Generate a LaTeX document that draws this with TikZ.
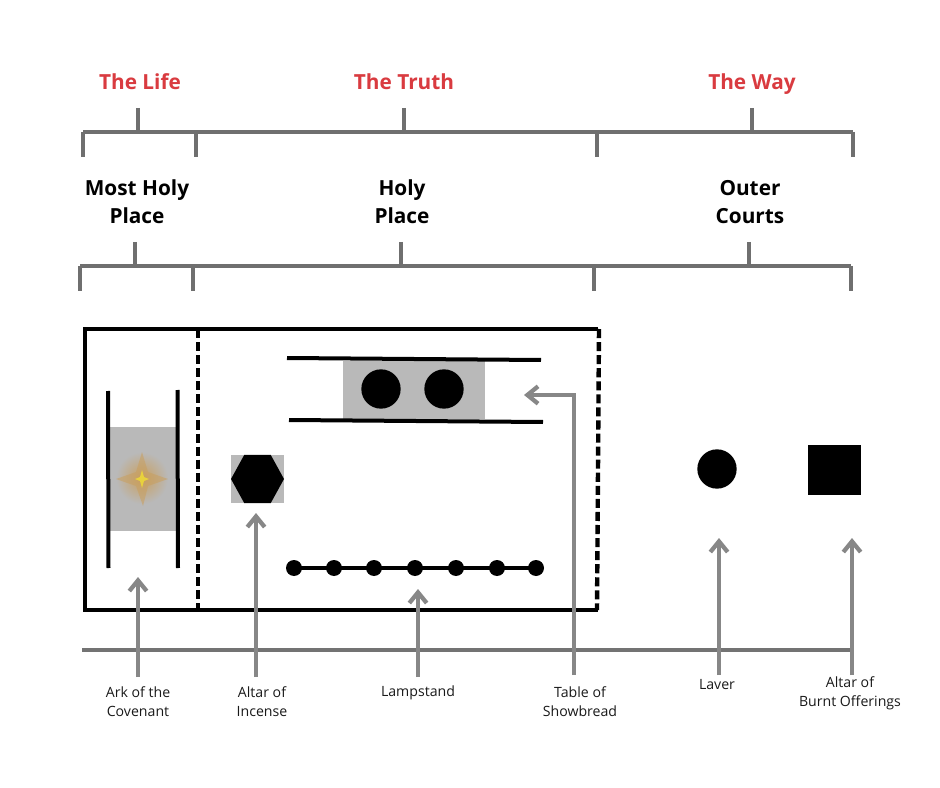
\documentclass[tikz,border=0pt]{standalone}
\usepackage{fontspec}
\setmainfont{Open Sans}
\usetikzlibrary{arrows.meta,positioning,shapes.geometric}
\definecolor{tagred}{HTML}{D93B40}
\definecolor{rulegray}{HTML}{6F6F6F}
\definecolor{arrowgray}{HTML}{878787}
\definecolor{padgray}{HTML}{B9B9B9}
\definecolor{glowtan}{HTML}{C99F5E}

\begin{document}
\begin{tikzpicture}[
  x=0.75pt, y=-0.75pt,
  rule/.style={draw=rulegray, line width=2.9pt},
  pointer/.style={draw=arrowgray, line width=3.2pt, -{Straight Barb[length=8pt,width=13pt,line width=3.2pt]}},
  wall/.style={draw=black, line width=3.1pt},
  veil/.style={draw=black, line width=3.3pt, dash pattern=on 6.8pt off 3pt},
  bar/.style={draw=black, line width=3pt},
  pad/.style={fill=padgray, inner sep=0pt, minimum width=#1},
  tag/.style={font=\fontsize{15.6}{21}\selectfont\bfseries, text=tagred, align=center, inner sep=0pt, anchor=base},
  place/.style={font=\fontsize{15.6}{21}\selectfont\bfseries, align=center, inner sep=0pt},
  item/.style={font=\fontsize{10.6}{14.25}\selectfont, text=black!90, align=center, inner sep=0pt},
  dot/.style={circle, fill=black, inner sep=0pt, minimum size=#1}
]
\useasboundingbox (0,0) rectangle (940,788);

% upper scale
\node[tag] (life) at (140,90) {The Life};
\node[tag] (truth) at (404,90) {The Truth};
\node[tag] (way) at (752,90) {The Way};
\draw[rule] (83,132) -- (853,132);
\foreach \x in {83,196,597,853} \draw[rule] (\x,132) -- (\x,157);
\foreach \x in {138,404,752} \draw[rule] (\x,108) -- (\x,132);

% lower scale
\node[place] (most) at (137,202) {Most Holy\\Place};
\node[place] (holy) at (402,202) {Holy\\Place};
\node[place] (outer) at (750,202) {Outer\\Courts};
\draw[rule] (80,266) -- (851,266);
\foreach \x in {80,193,594,851} \draw[rule] (\x,266) -- (\x,291);
\foreach \x in {135,401,749} \draw[rule] (\x,242) -- (\x,266);

% tent
\draw[wall] (598,329) -- (85,329) -- (85,610) -- (598,610);
\draw[veil] (198,329) -- (198,610);
\draw[veil] (599,329) -- (597,610);

% ark
\node[pad=68*0.75pt, minimum height=78pt] (arkpad) at (143,479) {};
\shade[inner color=glowtan, outer color=padgray] (142,478) circle (26);
\fill[glowtan, opacity=.55] (142,452) -- (148,472) -- (168,479) -- (148,486) -- (143,506) -- (136,486) -- (116,479) -- (136,472) -- cycle;
\fill[yellow!55!glowtan] (142,470) -- (144,477) -- (149,479) -- (144,481) -- (142,488) -- (140,481) -- (135,479) -- (140,477) -- cycle;
\draw[bar] (108,391) -- (108.5,568);
\draw[bar] (177.5,390) -- (178,568);

% table
\node[pad=142*0.75pt, minimum height=43.5pt] (tablepad) at (414,390) {};
\node[dot=29.5pt] (loafa) at (381,389) {};
\node[dot=29.5pt] (loafb) at (444,389) {};
\draw[bar] (287,358) -- (541,360);
\draw[bar] (289,420) -- (543,422);

% incense
\node[pad=53*0.75pt, minimum height=36.5pt] (incensepad) at (257.5,479) {};
\node[regular polygon, regular polygon sides=6, fill=black, inner sep=0pt, minimum size=39.75pt, yscale=1.05] (incense) at (257.5,479) {};

% lampstand
\draw[bar] (294,568) -- (536,568);
\foreach \x in {294,334,374,415,456,497,536} \node[dot=12pt] (lamp\x) at (\x,568) {};

% laver and altar
\node[dot=29.5pt] (laver) at (717,469) {};
\node[fill=black, inner sep=0pt, minimum width=39.75pt, minimum height=37.5pt] (altar) at (834.5,470) {};

% arrows from the ground line
\draw[rule, draw=arrowgray!85!black] (82,650) -- (853,650);
\coordinate (arkfoot) at (138,677);
\coordinate (arkhead) at (138,577);
\coordinate (incensefoot) at (256,677);
\coordinate (incensehead) at (256,513);
\coordinate (lampfoot) at (418,677);
\coordinate (lamphead) at (418,589);
\coordinate (tablefoot) at (574,675);
\coordinate (tablebend) at (574,395);
\coordinate (tablehead) at (524,395);
\coordinate (laverfoot) at (719,675);
\coordinate (laverhead) at (719,538);
\coordinate (altarfoot) at (852,675);
\coordinate (altarhead) at (852,538);
\draw[pointer] (arkfoot) -- (arkhead);
\draw[pointer] (incensefoot) -- (incensehead);
\draw[pointer] (lampfoot) -- (lamphead);
\draw[pointer] (tablefoot) -- (tablebend) -- (tablehead);
\draw[pointer] (laverfoot) -- (laverhead);
\draw[pointer] (altarfoot) -- (altarhead);

\node[item] (arklabel) at (138,702) {Ark of the\\Covenant};
\node[item] (incenselabel) at (262,702) {Altar of\\Incense};
\node[item] (lamplabel) at (418,692.5) {Lampstand};
\node[item] (tablelabel) at (580,702) {Table of\\Showbread};
\node[item] (laverlabel) at (717,684.5) {Laver};
\node[item] (altarlabel) at (850,693) {Altar of\\Burnt Offerings};

\end{tikzpicture}
\end{document}
